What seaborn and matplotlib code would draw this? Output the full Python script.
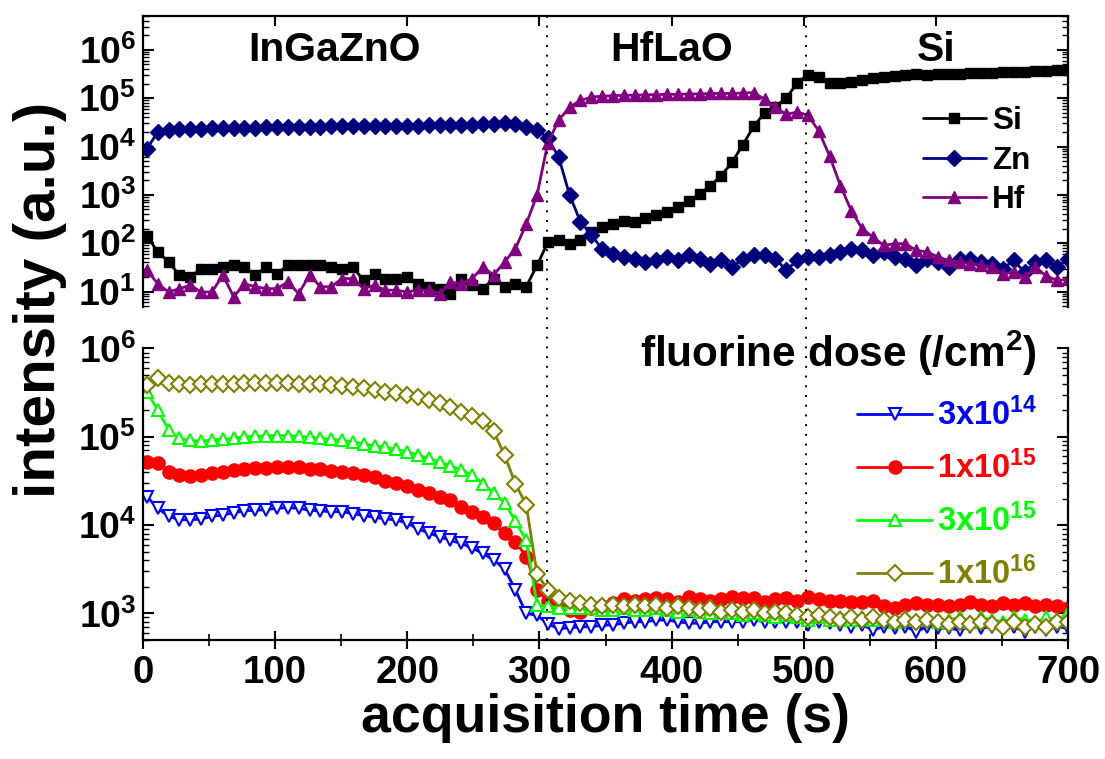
import numpy as np
import pandas as pd
import seaborn as sns
import matplotlib
matplotlib.use("Agg")
import matplotlib.pyplot as plt
from matplotlib import font_manager as fm
from matplotlib.lines import Line2D
import matplotlib.transforms as mtransforms
from matplotlib.ticker import LogLocator, MultipleLocator, FuncFormatter, NullFormatter, NullLocator

# ---------------- data ----------------
time_s = [3.0, 11.2, 19.4, 27.6, 35.8, 44.0, 52.2, 60.4, 68.6, 76.8,
          85.0, 93.2, 101.4, 109.6, 117.8, 126.0, 134.2, 142.4, 150.6, 158.8,
          167.0, 175.2, 183.4, 191.6, 199.8, 208.0, 216.2, 224.4, 232.6, 240.8,
          249.0, 257.2, 265.4, 273.6, 281.8, 290.0, 298.2, 306.4, 314.6, 322.8,
          331.0, 339.2, 347.4, 355.6, 363.8, 372.0, 380.2, 388.4, 396.6, 404.8,
          413.0, 421.2, 429.4, 437.6, 445.8, 454.0, 462.2, 470.4, 478.6, 486.8,
          495.0, 503.2, 511.4, 519.6, 527.8, 536.0, 544.2, 552.4, 560.6, 568.8,
          577.0, 585.2, 593.4, 601.6, 609.8, 618.0, 626.2, 634.4, 642.6, 650.8,
          659.0, 667.2, 675.4, 683.6, 691.8, 700.0]

si = [140, 66, 41, 22, 20, 30, 29, 32, 35, 32,
      22, 32, 23.5, 35, 35, 35, 35, 32, 29, 32,
      17, 23.5, 18.6, 18.6, 20, 14.5, 12.6, 11.5, 9.1, 18.6,
      13.5, 11.5, 18.6, 12.6, 14.5, 12.6, 35, 105, 115, 98,
      115, 170, 214, 250, 295, 275, 330, 375, 436, 550,
      760, 1040, 1550, 2500, 4700, 1.1e4, 2.6e4, 5.0e4, 6.7e4, 1.0e5,
      2.05e5, 3.07e5, 2.8e5, 2.1e5, 2.1e5, 2.2e5, 2.4e5, 2.6e5, 2.8e5, 2.9e5,
      3.0e5, 3.1e5, 3.05e5, 3.15e5, 3.2e5, 3.2e5, 3.3e5, 3.35e5, 3.3e5, 3.4e5,
      3.5e5, 3.5e5, 3.6e5, 3.7e5, 3.75e5, 3.9e5]

zn = [9.0e3, 2.0e4, 2.2e4, 2.3e4, 2.35e4, 2.35e4, 2.4e4, 2.4e4, 2.4e4, 2.45e4,
      2.45e4, 2.5e4, 2.5e4, 2.5e4, 2.55e4, 2.55e4, 2.55e4, 2.6e4, 2.6e4, 2.6e4,
      2.6e4, 2.65e4, 2.65e4, 2.7e4, 2.7e4, 2.7e4, 2.75e4, 2.75e4, 2.8e4, 2.8e4,
      2.85e4, 2.9e4, 2.95e4, 3.0e4, 2.9e4, 2.5e4, 2.2e4, 1.5e4, 6.0e3, 1.0e3,
      280, 150, 76, 60, 51, 48, 41, 44, 51, 44,
      56, 48, 38, 44, 32, 48, 56, 56, 48, 27.6,
      44, 52, 52, 56, 66, 77, 71, 56, 66, 52,
      48, 35, 48, 41, 32, 48, 48, 41, 38, 30,
      44, 25, 41, 44, 32, 48]

hf = [27.6, 14.5, 9.8, 11.5, 13.5, 9.8, 9.8, 22, 7.8, 14.5,
      12.6, 11.5, 11.5, 15.8, 9.1, 22, 12.6, 12.6, 18.6, 18.6,
      11.5, 13.5, 10.7, 10.7, 9.8, 10.7, 10.7, 9.1, 15.8, 14.5,
      18.6, 32, 22, 41, 77, 250, 1.0e3, 1.2e4, 3.5e4, 6.5e4,
      9.0e4, 1.05e5, 1.1e5, 1.12e5, 1.15e5, 1.15e5, 1.17e5, 1.18e5, 1.2e5, 1.2e5,
      1.22e5, 1.22e5, 1.25e5, 1.25e5, 1.25e5, 1.28e5, 1.3e5, 9.5e4, 6.5e4, 4.6e4,
      5.2e4, 4.4e4, 2.1e4, 6.3e3, 1.55e3, 470, 200, 134, 90, 98,
      98, 71, 66, 52, 44, 41, 38, 35, 32, 23.5,
      25, 20, 32, 21, 17, 18]

f_3e14 = [2.1e4, 1.55e4, 1.26e4, 1.15e4, 1.15e4, 1.17e4, 1.26e4, 1.3e4, 1.38e4, 1.45e4,
          1.47e4, 1.5e4, 1.55e4, 1.58e4, 1.55e4, 1.47e4, 1.45e4, 1.42e4, 1.42e4, 1.35e4,
          1.28e4, 1.23e4, 1.17e4, 1.15e4, 1.05e4, 9.1e3, 8.1e3, 7.4e3, 6.7e3, 6.2e3,
          5.5e3, 4.8e3, 4.0e3, 3.2e3, 1.85e3, 1.0e3, 950, 760, 670, 690,
          700, 710, 730, 745, 775, 805, 805, 840, 840, 805,
          775, 775, 805, 805, 805, 805, 840, 805, 805, 805,
          805, 745, 805, 775, 745, 710, 745, 650, 710, 680,
          710, 620, 710, 680, 680, 650, 710, 680, 710, 680,
          710, 620, 710, 650, 710, 680]

f_1e15 = [5.2e4, 5.0e4, 4.0e4, 3.7e4, 3.6e4, 3.7e4, 3.9e4, 4.0e4, 4.2e4, 4.35e4,
          4.4e4, 4.45e4, 4.6e4, 4.6e4, 4.5e4, 4.35e4, 4.3e4, 4.15e4, 4.0e4, 3.85e4,
          3.7e4, 3.55e4, 3.2e4, 3.0e4, 2.8e4, 2.5e4, 2.3e4, 2.1e4, 1.9e4, 1.6e4,
          1.4e4, 1.25e4, 1.05e4, 8.1e3, 6.5e3, 4.4e3, 1.85e3, 1.4e3, 1.2e3, 1.1e3,
          1.05e3, 1.15e3, 1.2e3, 1.3e3, 1.45e3, 1.4e3, 1.45e3, 1.5e3, 1.45e3, 1.35e3,
          1.55e3, 1.45e3, 1.4e3, 1.45e3, 1.55e3, 1.5e3, 1.5e3, 1.35e3, 1.45e3, 1.5e3,
          1.4e3, 1.55e3, 1.45e3, 1.4e3, 1.4e3, 1.35e3, 1.35e3, 1.4e3, 1.2e3, 1.15e3,
          1.25e3, 1.3e3, 1.25e3, 1.25e3, 1.2e3, 1.25e3, 1.35e3, 1.25e3, 1.2e3, 1.3e3,
          1.25e3, 1.3e3, 1.2e3, 1.25e3, 1.2e3, 1.15e3]

f_3e15 = [3.2e5, 2.0e5, 1.2e5, 9.6e4, 9.1e4, 8.9e4, 9.2e4, 9.4e4, 9.6e4, 1.0e5,
          1.01e5, 1.03e5, 1.03e5, 1.03e5, 1.01e5, 9.9e4, 9.6e4, 9.4e4, 9.1e4, 8.8e4,
          8.3e4, 7.9e4, 7.6e4, 7.2e4, 6.8e4, 6.2e4, 5.7e4, 5.2e4, 4.7e4, 4.2e4,
          3.7e4, 2.95e4, 2.3e4, 1.8e4, 1.1e4, 6.7e3, 1.25e3, 1.2e3, 1.15e3, 1.15e3,
          1.15e3, 1.15e3, 1.1e3, 1.1e3, 1.15e3, 1.1e3, 1.1e3, 1.15e3, 1.1e3, 1.05e3,
          1.1e3, 1.05e3, 1.0e3, 1.05e3, 1.0e3, 950, 1.0e3, 950, 900, 950,
          900, 850, 900, 850, 900, 850, 900, 850, 900, 800,
          900, 850, 900, 800, 850, 900, 800, 900, 850, 800,
          900, 850, 800, 900, 850, 1.0e3]

f_1e16 = [3.9e5, 4.6e5, 4.1e5, 3.95e5, 3.9e5, 3.95e5, 3.95e5, 4.0e5, 4.0e5, 4.1e5,
          4.1e5, 4.1e5, 4.1e5, 4.1e5, 4.0e5, 3.95e5, 3.95e5, 3.9e5, 3.75e5, 3.7e5,
          3.55e5, 3.4e5, 3.25e5, 3.1e5, 2.96e5, 2.8e5, 2.6e5, 2.4e5, 2.2e5, 1.9e5,
          1.7e5, 1.5e5, 1.15e5, 6.2e4, 2.95e4, 1.7e4, 2.8e3, 1.85e3, 1.5e3, 1.4e3,
          1.3e3, 1.25e3, 1.2e3, 1.25e3, 1.2e3, 1.25e3, 1.2e3, 1.25e3, 1.15e3, 1.2e3,
          1.15e3, 1.1e3, 1.15e3, 1.05e3, 1.1e3, 1.05e3, 1.1e3, 1.0e3, 1.05e3, 1.0e3,
          950, 900, 950, 900, 850, 900, 850, 900, 850, 800,
          850, 800, 850, 800, 750, 800, 750, 800, 750, 700,
          800, 700, 750, 700, 800, 800]

element_labels = ["Si", "Zn", "Hf"]
dose_labels = ["3x10$^{14}$", "1x10$^{15}$", "3x10$^{15}$", "1x10$^{16}$"]
layer_names = ["InGaZnO", "HfLaO", "Si"]
layer_centers = [145, 400, 600]
interfaces = [306, 502]

# ---------------- style ----------------
sns.set_style("white")


def _has(name):
    try:
        fm.findfont(fm.FontProperties(family=name), fallback_to_default=False)
        return True
    except Exception:
        return False


NARROW = _has("Liberation Sans Narrow")
FAM = "Liberation Sans Narrow" if NARROW else "Liberation Sans"
S = 1.0 if NARROW else 0.84

plt.rcParams["font.family"] = [FAM, "DejaVu Sans"]
plt.rcParams["font.weight"] = "bold"
plt.rcParams["text.color"] = "black"
plt.rcParams["axes.labelcolor"] = "black"
plt.rcParams["xtick.color"] = "black"
plt.rcParams["ytick.color"] = "black"
plt.rcParams["mathtext.fontset"] = "custom"
for k in ("rm", "it", "bf", "sf"):
    plt.rcParams["mathtext." + k] = FAM + ":bold"

W, H = 1105, 759
fig = plt.figure(figsize=(W / 100, H / 100), dpi=100)


def rect(x0, y0, x1, y1):
    return [x0 / W, 1 - y1 / H, (x1 - x0) / W, (y1 - y0) / H]


ax1 = fig.add_axes(rect(143, 16, 1068, 307))
ax2 = fig.add_axes(rect(143, 348.5, 1068, 640))

# ---------------- top panel ----------------
top_series = [
    (si, "black", "s", 7.0, "black"),
    (zn, "#00007f", "D", 8.0, "#00007f"),
    (hf, "#800080", "^", 8.5, "#800080"),
]
for vals, col, mk, ms, fc in top_series:
    sns.lineplot(x=time_s, y=vals, ax=ax1, color=col, marker=mk, markersize=ms,
                 markerfacecolor=fc, markeredgecolor=col, markeredgewidth=1.0,
                 linewidth=2.0, legend=False)

# ---------------- bottom panel ----------------
bottom_series = [
    (f_3e14, "#0000ff", "v", 8.5),
    (f_1e15, "#ff0000", "o", 9.0),
    (f_3e15, "#00ff00", "^", 8.5),
    (f_1e16, "#808000", "D", 8.0),
]
for vals, col, mk, ms in bottom_series:
    fc = col if mk == "o" else "white"
    sns.lineplot(x=time_s, y=vals, ax=ax2, color=col, marker=mk, markersize=ms,
                 markerfacecolor=fc, markeredgecolor=col, markeredgewidth=1.5,
                 linewidth=2.0, legend=False)

fmt = FuncFormatter(lambda v, p: "10$^{%d}$" % int(round(np.log10(v))))
for ax in (ax1, ax2):
    ax.set_yscale("log")
    ax.set_xlim(0, 700)
    ax.set_xlabel("")
    ax.set_ylabel("")
    ax.yaxis.set_major_locator(LogLocator(base=10, numticks=20))
    ax.yaxis.set_minor_locator(LogLocator(base=10, subs=np.arange(2, 10), numticks=20))
    ax.yaxis.set_major_formatter(fmt)
    ax.yaxis.set_minor_formatter(NullFormatter())
    ax.tick_params(axis="y", which="major", direction="in", left=True, right=True,
                   length=8, width=1.5, labelsize=32 * S, pad=5, colors="black")
    ax.tick_params(axis="y", which="minor", direction="in", left=True, right=True,
                   length=4, width=1.0, colors="black")
    for sp in ax.spines.values():
        sp.set_linewidth(1.6)
        sp.set_color("black")

ax1.set_ylim(4.8, 5.0e6)
ax2.set_ylim(500, 1.0e6)

ax1.spines["bottom"].set_visible(False)
ax2.spines["top"].set_visible(False)

ax1.xaxis.set_major_locator(MultipleLocator(100))
ax1.xaxis.set_minor_locator(NullLocator())
ax1.tick_params(axis="x", which="major", top=True, bottom=False, labeltop=False,
                labelbottom=False, direction="in", length=7, width=1.5, colors="black")

ax2.xaxis.set_major_locator(MultipleLocator(100))
ax2.xaxis.set_minor_locator(MultipleLocator(50))
ax2.tick_params(axis="x", which="major", top=False, bottom=True, direction="inout",
                length=13, width=1.5, labelsize=33 * S, pad=4, colors="black")
ax2.tick_params(axis="x", which="minor", top=False, bottom=True, direction="inout",
                length=8, width=1.2, colors="black")

# layer names
for name, xc in zip(layer_names, layer_centers):
    ax1.text(xc, 1.0e6, name, ha="center", va="center", fontsize=35 * S,
             fontweight="bold", color="black")

# interface dotted lines across both panels
trans = mtransforms.blended_transform_factory(ax2.transData, fig.transFigure)
for xv in interfaces:
    fig.add_artist(Line2D([xv, xv], [1 - 640 / H, 1 - 16 / H], transform=trans,
                          color="black", linestyle=(0, (1, 4)), linewidth=1.4))

# legends
leg1 = ax1.legend(ax1.lines[:3], element_labels, loc="upper left",
                  bbox_to_anchor=(0.843, 0.69), frameon=False,
                  prop={"family": FAM, "weight": "bold", "size": 27 * S},
                  handlelength=2.0, handletextpad=0.2, labelspacing=0.3,
                  borderpad=0, borderaxespad=0)
for txt in leg1.get_texts():
    txt.set_color("black")

leg2 = ax2.legend(ax2.lines[:4], dose_labels, loc="upper left",
                  bbox_to_anchor=(0.772, 0.83), frameon=False,
                  prop={"family": FAM, "weight": "bold", "size": 28 * S},
                  handlelength=2.3, handletextpad=0.15, labelspacing=0.56,
                  borderpad=0, borderaxespad=0)
for txt, (_, col, _, _) in zip(leg2.get_texts(), bottom_series):
    txt.set_color(col)

ax2.text(0.966, 0.985, "fluorine dose (/cm$^{2}$)", transform=ax2.transAxes,
         ha="right", va="center", fontsize=30.5, fontweight="bold", color="black")

# axis labels
fig.text(605 / W, 1 - 718 / H, "acquisition time (s)", ha="center", va="center",
         fontsize=46 * S, fontweight="bold", color="black")
fig.text(40 / W, 1 - 300 / H, "intensity (a.u.)", ha="center", va="center",
         rotation=90, fontsize=50 * S, fontweight="bold", color="black")

fig.savefig("out.png", dpi=100)
